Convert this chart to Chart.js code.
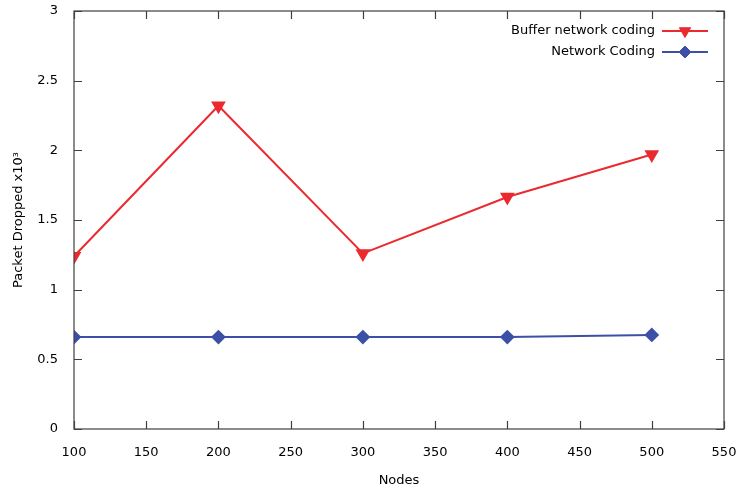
<!DOCTYPE html>
<html>
<head>
<meta charset="utf-8">
<script src="https://cdn.jsdelivr.net/npm/chart.js@4/dist/chart.umd.min.js"></script>
<style>
  html, body { margin: 0; padding: 0; background: #fff; }
  #wrap { width: 739px; height: 494px; }
</style>
</head>
<body>
<div id="wrap"><canvas id="myLineChart"></canvas></div>
<script>
//---x-axis
var nodes = [100, 200, 300, 400, 500];

//---data
var bufferData = [1.24, 2.32, 1.26, 1.665, 1.97];
var codingData = [0.66, 0.66, 0.66, 0.66, 0.675];

//---labels
var seriesNames = ['Buffer network coding', 'Network Coding'];
var xTicks = [100, 150, 200, 250, 300, 350, 400, 450, 500, 550];
var yTicks = [0, 0.5, 1, 1.5, 2, 2.5, 3];

var FONT = '"DejaVu Sans", sans-serif';
var red = '#ea2a2e';
var blue = '#3b50a6';

// gnuplot style box, inward ticks and legend
var gnuplotBox = {
  id: 'gnuplotBox',
  afterDatasetsDraw: function (chart) {
    var c = chart.ctx, a = chart.chartArea;
    var xs = chart.scales.x, ys = chart.scales.y;
    c.save();
    c.strokeStyle = '#404040';
    c.lineWidth = 1.2;
    c.strokeRect(a.left, a.top, a.right - a.left, a.bottom - a.top);
    c.beginPath();
    xTicks.forEach(function (v) {
      var px = Math.round(xs.getPixelForValue(v)) + 0.5;
      c.moveTo(px, a.bottom); c.lineTo(px, a.bottom - 8);
      c.moveTo(px, a.top); c.lineTo(px, a.top + 8);
    });
    yTicks.forEach(function (v) {
      var py = Math.round(ys.getPixelForValue(v)) + 0.5;
      c.moveTo(a.left, py); c.lineTo(a.left + 8, py);
      c.moveTo(a.right, py); c.lineTo(a.right - 8, py);
    });
    c.stroke();

    // legend
    c.font = '13px ' + FONT;
    c.textAlign = 'right';
    c.textBaseline = 'middle';
    chart.data.datasets.forEach(function (ds, i) {
      var y = 31 + i * 21;
      c.fillStyle = '#000';
      c.fillText(ds.label, 655, y);
      c.strokeStyle = ds.borderColor;
      c.lineWidth = 2;
      c.beginPath(); c.moveTo(662, y); c.lineTo(708, y); c.stroke();
      c.fillStyle = ds.backgroundColor;
      c.lineWidth = 1;
      Chart.helpers.drawPoint(c, {
        pointStyle: ds.pointStyle, radius: ds.pointRadius, rotation: ds.pointRotation, borderWidth: 1
      }, 685, y);
    });
    c.restore();
  }
};

var ctx = document.getElementById('myLineChart');

var data = {
  datasets: [{
    label: seriesNames[0],
    data: nodes.map(function (n, i) { return { x: n, y: bufferData[i] }; }),
    borderColor: red,
    backgroundColor: red,
    borderWidth: 2,
    pointStyle: 'triangle',
    pointRotation: 180,
    pointRadius: 6.5,
    pointHoverRadius: 6.5,
    lineTension: 0
  }, {
    label: seriesNames[1],
    data: nodes.map(function (n, i) { return { x: n, y: codingData[i] }; }),
    borderColor: blue,
    backgroundColor: blue,
    borderWidth: 2,
    pointStyle: 'rectRot',
    pointRadius: 6,
    pointHoverRadius: 6,
    lineTension: 0
  }]
};

var options = {
  responsive: true,
  maintainAspectRatio: false,
  animation: false,
  layout: { padding: { top: 11, right: 15, bottom: 0, left: 0 } },
  plugins: { legend: { display: false }, tooltip: { enabled: false } },
  scales: {
    x: {
      type: 'linear',
      min: 100, max: 550,
      afterBuildTicks: function (s) { s.ticks = xTicks.map(function (v) { return { value: v }; }); },
      afterFit: function (s) { s.height = 65; s.paddingLeft = 0; s.paddingRight = 0; },
      grid: { display: false },
      border: { display: false },
      ticks: { padding: 8, color: '#000', font: { family: FONT, size: 13 } },
      title: { display: true, text: 'Nodes', color: '#000', padding: { top: 4, bottom: 6 }, font: { family: FONT, size: 13 } }
    },
    y: {
      min: 0, max: 3,
      afterBuildTicks: function (s) { s.ticks = yTicks.map(function (v) { return { value: v }; }); },
      afterFit: function (s) { s.width = 74; s.paddingTop = 0; s.paddingBottom = 0; },
      grid: { display: false },
      border: { display: false },
      ticks: { padding: 8, color: '#000', font: { family: FONT, size: 13 },
        callback: function (v) { return String(v); } },
      title: { display: true, text: 'Packet Dropped x10\u00B3', color: '#000', padding: { top: 11, bottom: 0 }, font: { family: FONT, size: 13 } }
    }
  }
};

var myLineChart = new Chart(ctx, {
  type: 'line',
  data: data,
  options: options,
  plugins: [gnuplotBox]
});
</script>
</body>
</html>
